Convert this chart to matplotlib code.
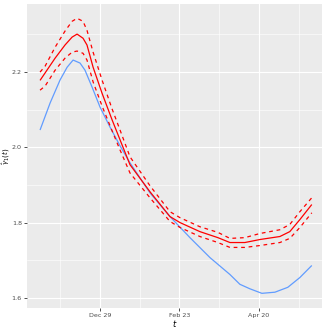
import numpy as np
import matplotlib
matplotlib.use('Agg')
import matplotlib.pyplot as plt
import matplotlib.dates as mdates

origin = np.datetime64('2020-12-29')

# blue estimate curve (days from Dec 29, value)
blue_days = [-42.3, -35.2, -28.2, -23.2, -19.0, -14.1, -10.6, -5.6, 0, 7.0, 14.1, 21.1, 35.2, 49.3,
             63.4, 77.5, 91.6, 98.6, 105.7, 114.1, 123.3, 132.4, 140.9, 149.3]
blue_vals = [2.046, 2.118, 2.179, 2.213, 2.232, 2.224, 2.205, 2.160, 2.107, 2.054, 2.004, 1.959,
             1.879, 1.816, 1.760, 1.707, 1.662, 1.636, 1.624, 1.612, 1.615, 1.628, 1.654, 1.686]

# red estimate with upper / lower band
red_days = [-42.3, -38.7, -31.7, -24.7, -19.7, -16.2, -12.0, -9.2, -4.9, 1.4, 8.5, 14.1, 21.1,
            35.2, 49.3, 56.4, 70.4, 83.1, 91.6, 102.1, 112.7, 126.8, 133.8, 140.9, 149.3]
red_vals = [2.178, 2.198, 2.237, 2.272, 2.293, 2.301, 2.290, 2.272, 2.213, 2.144, 2.073, 2.020, 1.954,
            1.882, 1.816, 1.800, 1.776, 1.760, 1.747, 1.747, 1.755, 1.763, 1.776, 1.808, 1.848]
red_upper = [2.200, 2.216, 2.266, 2.309, 2.335, 2.343, 2.335, 2.311, 2.253, 2.179, 2.102, 2.046, 1.975,
             1.898, 1.829, 1.813, 1.789, 1.774, 1.758, 1.760, 1.771, 1.781, 1.795, 1.829, 1.866]
red_lower = [2.152, 2.163, 2.205, 2.237, 2.253, 2.256, 2.250, 2.232, 2.174, 2.110, 2.044, 1.993, 1.932,
             1.866, 1.803, 1.787, 1.763, 1.747, 1.734, 1.734, 1.739, 1.747, 1.758, 1.787, 1.826]

major_days = [0, 56, 112]
minor_days = [-28, 28, 84, 140]


def to_dates(days):
    return origin + (np.array(days) * 24 * 60).astype('timedelta64[m]')


fig = plt.figure(figsize=(3.29, 3.29), dpi=100)
ax = fig.add_axes([27/329, 21/329, 295/329, 304/329])
ax.set_facecolor('#EBEBEB')
for s in ax.spines.values():
    s.set_visible(False)

kw = dict(lw=0.9, solid_joinstyle='round', solid_capstyle='butt')
ax.plot(to_dates(blue_days), blue_vals, color='#619CFF', **kw)
ax.plot(to_dates(red_days), red_vals, color='red', **kw)
ax.plot(to_dates(red_days), red_upper, color='red', lw=0.9, dashes=(3, 3))
ax.plot(to_dates(red_days), red_lower, color='red', lw=0.9, dashes=(3, 3))

ax.set_xlim(to_dates([-51.5])[0], to_dates([156.5])[0])
ax.set_ylim(1.573, 2.381)

ax.set_xticks(to_dates(major_days))
ax.set_xticks(to_dates(minor_days), minor=True)
ax.xaxis.set_major_formatter(mdates.DateFormatter('%b %d'))
ax.set_yticks([1.6, 1.8, 2.0, 2.2])
ax.set_yticks([1.7, 1.9, 2.1, 2.3], minor=True)
ax.yaxis.set_major_formatter(plt.FuncFormatter(lambda v, p: '%.1f' % v))

ax.grid(which='major', color='white', lw=0.8)
ax.grid(which='minor', color='white', lw=0.4)
ax.set_axisbelow(True)
ax.tick_params(which='major', length=2.5, width=0.6, color='#333333',
               labelsize=4.6, labelcolor='#4D4D4D', pad=1.2)
ax.tick_params(which='minor', length=0)

ax.set_xlabel('$t$', fontsize=6)
ax.set_ylabel(r'$\hat{\gamma}_1(t)$', fontsize=5)
ax.xaxis.set_label_coords(0.5, -0.034)
ax.yaxis.set_label_coords(-0.051, 0.5)

plt.savefig('out.png', dpi=100)
